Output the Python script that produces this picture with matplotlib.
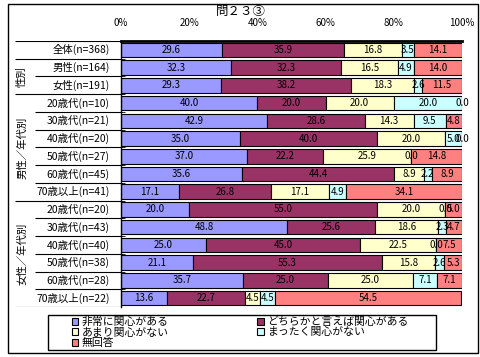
import matplotlib

matplotlib.use("Agg")
import matplotlib.pyplot as plt
from matplotlib.patches import Rectangle

plt.rcParams["font.family"] = ["Noto Sans CJK JP", "DejaVu Sans"]

TITLE = "問２３③"
CATEGORIES = [
    "全体(n=368)",
    "男性(n=164)", "女性(n=191)",
    "20歳代(n=10)", "30歳代(n=21)", "40歳代(n=20)",
    "50歳代(n=27)", "60歳代(n=45)", "70歳以上(n=41)",
    "20歳代(n=20)", "30歳代(n=43)", "40歳代(n=40)",
    "50歳代(n=38)", "60歳代(n=28)", "70歳以上(n=22)",
]
GROUPS = [("性別", 1, 2), ("男性／年代別", 3, 8), ("女性／年代別", 9, 14)]
SERIES = ["非常に関心がある", "どちらかと言えば関心がある", "あまり関心がない",
          "まったく関心がない", "無回答"]
VERY = [29.6, 32.3, 29.3, 40.0, 42.9, 35.0, 37.0, 35.6, 17.1,
        20.0, 48.8, 25.0, 21.1, 35.7, 13.6]
SOMEWHAT = [35.9, 32.3, 38.2, 20.0, 28.6, 40.0, 22.2, 44.4, 26.8,
            55.0, 25.6, 45.0, 55.3, 25.0, 22.7]
NOT_MUCH = [16.8, 16.5, 18.3, 20.0, 14.3, 20.0, 25.9, 8.9, 17.1,
            20.0, 18.6, 22.5, 15.8, 25.0, 4.5]
NOT_AT_ALL = [3.5, 4.9, 2.6, 20.0, 9.5, 5.0, 0.0, 2.2, 4.9,
              0.0, 2.3, 0.0, 2.6, 7.1, 4.5]
NO_ANSWER = [14.1, 14.0, 11.5, 0.0, 4.8, 0.0, 14.8, 8.9, 34.1,
             5.0, 4.7, 7.5, 5.3, 7.1, 54.5]
COLORS = ["#9999FF", "#993366", "#FFFFCC", "#CCFFFF", "#FF8080"]
XTICKS = [0, 20, 40, 60, 80, 100]

W, H = 481, 357


def fx(px):
    return px / W


def fy(py):
    return 1 - py / H


fig = plt.figure(figsize=(W / 100, H / 100), dpi=100)
fig.add_artist(Rectangle((fx(8), fy(353)), fx(470), 349 / H, fill=False,
                         ec="black", lw=1, transform=fig.transFigure))
fig.text(0.5, fy(11), TITLE, ha="center", va="center", fontsize=9)

top, bottom = 41, 307
ax = fig.add_axes([fx(121), fy(bottom), fx(341), (bottom - top) / H])
n = len(CATEGORIES)
ypos = list(range(n))

left = [0.0] * n
handles = []
for name, vals, col in zip(SERIES, [VERY, SOMEWHAT, NOT_MUCH, NOT_AT_ALL, NO_ANSWER], COLORS):
    bars = ax.barh(ypos, vals, left=left, height=0.82, color=col,
                   edgecolor="black", linewidth=0.8, label=name, zorder=2)
    ax.bar_label(bars, labels=["%.1f" % v for v in vals], label_type="center",
                 fontsize=7, zorder=3)
    handles.append(bars)
    left = [a + b for a, b in zip(left, vals)]

ax.set_xlim(0, 100)
ax.set_ylim(n - 0.5, -0.5)
ax.set_xticks(XTICKS)
ax.set_xticklabels(["%d%%" % t for t in XTICKS], fontsize=7)
ax.set_xticks([20, 40, 60, 80], minor=True)
ax.xaxis.tick_top()
ax.tick_params(axis="x", which="both", length=0, pad=9)
ax.grid(axis="x", which="minor", color="black", lw=0.8, zorder=0)
ax.set_yticks([])
ax.set_yticks([i + 0.5 for i in range(n - 1)], minor=True)
ax.tick_params(axis="y", which="minor", direction="in", length=3, color="black")
for s in ("right", "bottom"):
    ax.spines[s].set_visible(False)
ax.spines["top"].set_linewidth(2)
ax.spines["left"].set_linewidth(1)

# label table on the left
lax = fig.add_axes([fx(15), fy(bottom), fx(106), (bottom - top) / H])
lax.set_xlim(0, 106)
lax.set_ylim(n - 0.5, -0.5)
lax.axis("off")
for i, cat in enumerate(CATEGORIES):
    lax.text(95, i, cat, ha="right", va="center", fontsize=7.5)
group_edges = [-0.5, 0.5, 2.5, 8.5, 14.5]
lax.hlines(group_edges, 0, 106, color="black", lw=0.8)
inner = [i + 0.5 for i in range(n - 1) if i + 0.5 not in group_edges]
lax.hlines(inner, 20, 106, color="black", lw=0.8)
for label, a, b in GROUPS:
    lax.text(7, (a + b) / 2, label, ha="center", va="center", rotation=90,
             fontsize=7.5)

# legend: frame drawn separately so it can span the reference width
fig.add_artist(Rectangle((fx(48), fy(350)), fx(388), 35 / H, fill=False,
                         ec="black", lw=1, transform=fig.transFigure))
order = [0, 2, 4, 1, 3]
leg = fig.legend([handles[i] for i in order], [SERIES[i] for i in order],
                 ncol=2, loc="upper left",
                 bbox_to_anchor=(fx(70), fy(315)),
                 fontsize=7.8, frameon=False,
                 handlelength=0.6, handleheight=0.6, handletextpad=0.3,
                 columnspacing=8.2, labelspacing=0.05, borderpad=0.15,
                 borderaxespad=0)

fig.savefig("out.png", dpi=100)
